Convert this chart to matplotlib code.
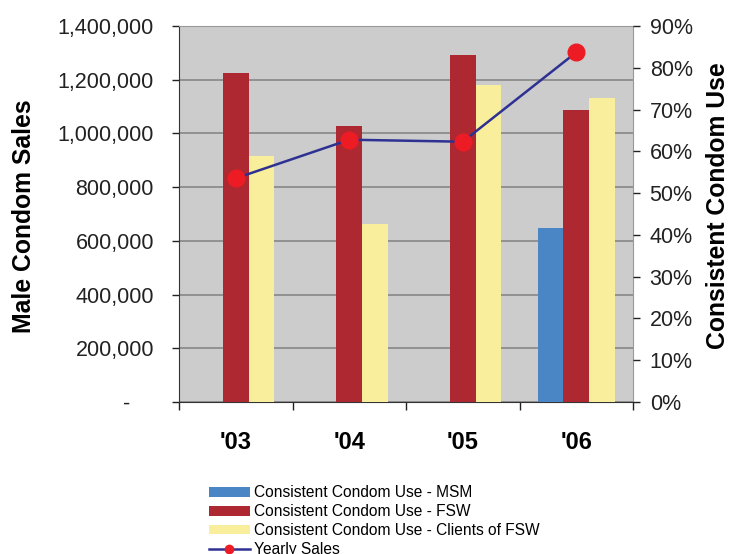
import matplotlib.pyplot as plt
import numpy as np
from matplotlib.ticker import FuncFormatter, FixedLocator

plt.rcParams['font.family'] = ['Liberation Sans', 'DejaVu Sans']

# Data
years = ["'03", "'04", "'05", "'06"]
use_msm = [np.nan, np.nan, np.nan, 41.6]     # % consistent condom use, MSM
use_fsw = [78.7, 66.1, 83.1, 69.9]           # % consistent condom use, FSW
use_clients = [58.9, 42.6, 75.9, 72.8]       # % consistent condom use, clients of FSW
yearly_sales = [833000, 976600, 969200, 1302000]

C_MSM = '#4a86c6'
C_FSW = '#ae2831'
C_CLI = '#f9ee9b'
C_LINE = '#2e3192'
C_DOT = '#ed1c24'

fig = plt.figure(figsize=(7.3, 5.54), dpi=100)
ax = fig.add_axes([179 / 730, 1 - 402 / 554, 454 / 730, 376 / 554])
ax.set_facecolor('#cccccc')

x = np.arange(len(years))
w = 0.225

# sales axis (left) carries the grid
ax.set_ylim(0, 1400000)
ax.set_xlim(-0.5, 3.5)
ax.set_yticks(np.arange(0, 1400001, 200000))
ax.yaxis.set_major_formatter(FuncFormatter(lambda v, p: '-    ' if v == 0 else f'{v:,.0f}'))
ax.grid(axis='y', color='#8c8c8c', linewidth=1.3)
ax.set_axisbelow(True)
ax.tick_params(axis='y', labelsize=15.5, length=5, width=1, pad=13, colors='#222222')

ax.set_xticks(x)
ax.set_xticklabels(years, fontsize=17, fontweight='bold')
ax.tick_params(axis='x', which='major', length=0, pad=21)
ax.xaxis.set_minor_locator(FixedLocator(np.arange(-0.5, 3.6, 1.0)))
ax.tick_params(axis='x', which='minor', length=6, width=1, colors='#222222')

for s in ['top', 'right']:
    ax.spines[s].set_color('#999999')
ax.spines['left'].set_color('#333333')
ax.spines['bottom'].set_color('#333333')

# percentage axis (right) holds the bars
ax2 = ax.twinx()
ax2.bar(x - w, use_msm, w, color=C_MSM, label='Consistent Condom Use - MSM')
ax2.bar(x, use_fsw, w, color=C_FSW, label='Consistent Condom Use - FSW')
ax2.bar(x + w, use_clients, w, color=C_CLI, label='Consistent Condom Use - Clients of FSW')
ax2.set_ylim(0, 90)
ax2.set_yticks(np.arange(0, 91, 10))
ax2.yaxis.set_major_formatter(FuncFormatter(lambda v, p: f'{v:.0f}%'))
ax2.tick_params(axis='y', labelsize=15.5, length=5, width=1, pad=7, colors='#222222')
for s in ax2.spines.values():
    s.set_visible(False)

# third layer for the sales line, on top of the bars
ax3 = ax.twinx()
ax3.set_ylim(ax.get_ylim())
ax3.axis('off')
ax3.plot(x, yearly_sales, color=C_LINE, linewidth=1.8, marker='o', markersize=12,
         markerfacecolor=C_DOT, markeredgecolor=C_DOT, label='Yearly Sales')

# axis titles
fig.text(24.5 / 730, 1 - 216 / 554, 'Male Condom Sales', rotation=90, ha='center', va='center',
         fontsize=17.8, fontweight='bold')
fig.text(718 / 730, 1 - 206 / 554, 'Consistent Condom Use', rotation=90, ha='center', va='center',
         fontsize=17.8, fontweight='bold')

handles = [h for a in (ax2, ax3) for h in a.get_legend_handles_labels()[0]]
labels = [l for a in (ax2, ax3) for l in a.get_legend_handles_labels()[1]]
leg = fig.legend(handles, labels, loc='upper left', bbox_to_anchor=(203 / 730, 1 - 479 / 554),
                 frameon=False, fontsize=11.2, handlelength=2.6, handleheight=0.6,
                 labelspacing=0.25, handletextpad=0.3, borderaxespad=0, markerscale=0.5)

fig.savefig('out.png', dpi=100)
